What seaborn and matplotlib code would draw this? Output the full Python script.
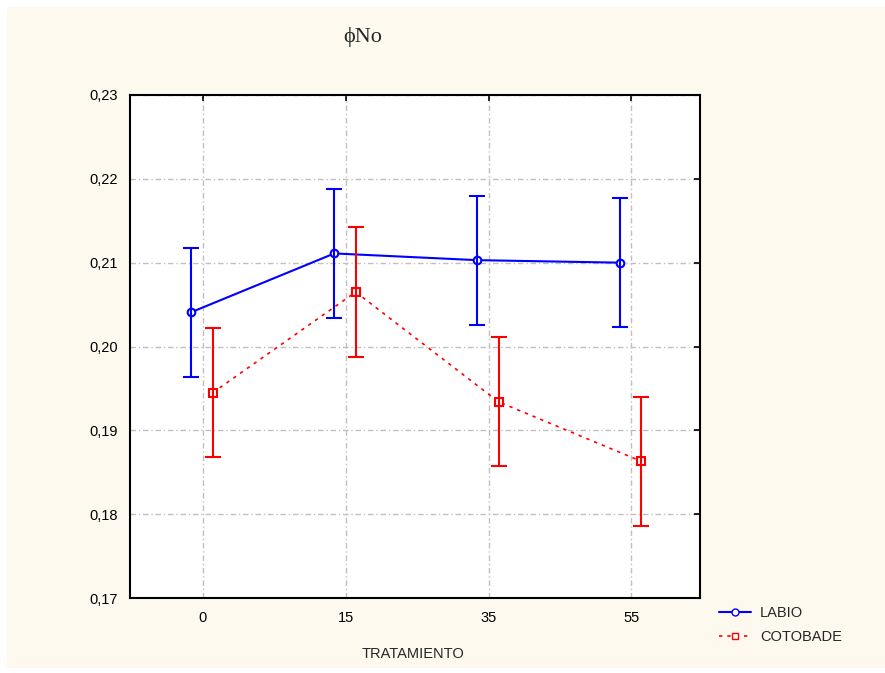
import numpy as np
import pandas as pd
import matplotlib
matplotlib.use("Agg")
import matplotlib.pyplot as plt
import seaborn as sns
from matplotlib.lines import Line2D
from matplotlib.patches import Rectangle
from matplotlib.ticker import FuncFormatter

# data
tratamientos = ["0", "15", "35", "55"]
labio_mean = [0.2041, 0.2111, 0.2103, 0.2100]
labio_err = [0.0077, 0.0077, 0.0077, 0.0077]
coto_mean = [0.1945, 0.2065, 0.1934, 0.1863]
coto_err = [0.0077, 0.0077, 0.0077, 0.0077]

sns.set_style("white")
plt.rcParams["font.family"] = ["Liberation Sans", "DejaVu Sans"]

fig = plt.figure(figsize=(8.85, 6.73), dpi=100, facecolor="white")
fig.patches.append(Rectangle((7 / 885, 5 / 673), 1 - 7 / 885, 1 - 12 / 673,
                             transform=fig.transFigure, facecolor="#fef9ee",
                             edgecolor="none", zorder=-10))
ax = fig.add_axes([130 / 885, 1 - 598 / 673, 570 / 885, 503 / 673])
ax.set_facecolor("white")

idx = np.arange(len(tratamientos))
df = pd.DataFrame({
    "pos": np.concatenate([idx - 0.08, idx + 0.07]),
    "valor": labio_mean + coto_mean,
    "err": labio_err + coto_err,
    "serie": ["LABIO"] * 4 + ["COTOBADE"] * 4,
})

styles = {
    "LABIO": dict(color="#0000ff", marker="o", lw=1.5, dashes=True),
    "COTOBADE": dict(color="#ff0000", marker="s", lw=1.2, dashes=(2, 3)),
}

for serie, st in styles.items():
    sub = df[df["serie"] == serie]
    sns.lineplot(data=sub, x="pos", y="valor", ax=ax, color=st["color"],
                 linewidth=st["lw"], sort=False,
                 marker=st["marker"], markersize=5.5, markerfacecolor="white",
                 markeredgecolor=st["color"], markeredgewidth=1.5,
                 dashes=st["dashes"], zorder=3)
    ax.errorbar(sub["pos"], sub["valor"], yerr=sub["err"], fmt="none",
                ecolor=st["color"], elinewidth=1.5, capsize=6, capthick=1.5, zorder=4)

ax.set_xlim(-0.51, 3.48)
ax.set_ylim(0.17, 0.23)
ax.set_xticks(idx)
ax.set_xticklabels(tratamientos)
ax.set_yticks(np.arange(0.17, 0.2301, 0.01))
ax.yaxis.set_major_formatter(FuncFormatter(lambda v, p: f"{v:.2f}".replace(".", ",")))
ax.tick_params(direction="in", length=4, width=1.2, top=True, right=True,
               labelsize=10.5, pad=9, colors="black")
ax.grid(True, color="#c0c0c0", linestyle=(0, (4, 2, 1, 2)), linewidth=1)
for s in ax.spines.values():
    s.set_visible(True)
    s.set_color("black")
    s.set_linewidth(1.5)
ax.set_xlabel("")
ax.set_ylabel("")

fig.text(413 / 885, 1 - 654 / 673, "TRATAMIENTO", ha="center", va="center", fontsize=10.5)
fig.text(363 / 885, 1 - 37 / 673, "ϕNo", ha="center", va="center", fontsize=16,
         family=["Liberation Serif", "DejaVu Serif"])

handles = [
    Line2D([], [], color="#0000ff", marker="o", markerfacecolor="white", ms=5, lw=1.5),
    Line2D([], [], color="#ff0000", marker="s", markerfacecolor="white", ms=5, lw=1.2, ls=(0, (2, 3))),
]
fig.legend(handles, ["LABIO", "COTOBADE"], loc="upper left",
           bbox_to_anchor=(706 / 885, 1 - 593 / 673), frameon=False,
           fontsize=10.5, handlelength=2.2, handletextpad=0.6, labelspacing=0.7)

fig.savefig("out.png", dpi=100, facecolor=fig.get_facecolor())
